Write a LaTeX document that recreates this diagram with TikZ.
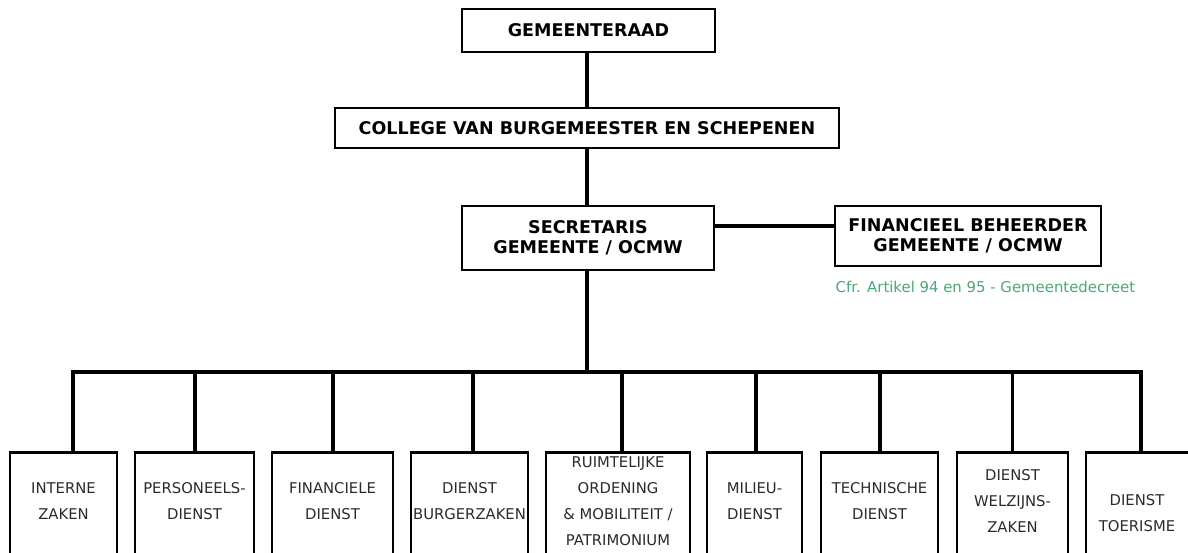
\documentclass[tikz,border=0pt]{standalone}
\usepackage{fontspec}
\setmainfont{DejaVu Sans}
\definecolor{notegreen}{HTML}{4AA874}
\definecolor{lowtext}{HTML}{2A2A2A}
\begin{document}
\begin{tikzpicture}[x=1pt,y=-1pt,
  topbox/.style={draw, line width=2.8pt, inner sep=0pt, align=center,
    font=\bfseries\fontsize{17.5}{20}\selectfont},
  lowbox/.style={draw, line width=2.8pt, inner sep=0pt, anchor=north, minimum height=150},
  lowtxt/.style={align=center, text=lowtext, font=\fontsize{14.8}{26}\selectfont, inner sep=0pt},
  conn/.style={line width=3.3pt}]
\useasboundingbox (0,0) rectangle (1188,553);
\clip (0,0) rectangle (1188,553);
% top boxes
\node[topbox, minimum width=253, minimum height=43] (g) at (588.5,30.5) {GEMEENTERAAD};
\node[topbox, minimum width=504, minimum height=40] (c) at (587,128) {COLLEGE VAN BURGEMEESTER EN SCHEPENEN};
\node[topbox, minimum width=252, minimum height=64] (s) at (588,238) {SECRETARIS\\GEMEENTE / OCMW};
\node[topbox, minimum width=266, minimum height=60] (f) at (968,236) {FINANCIEEL BEHEERDER\\GEMEENTE / OCMW};
\node[text=notegreen, font=\fontsize{14.9}{16}\selectfont, inner sep=0pt] (note) at (985.5,287) {Cfr. Artikel 94 en 95 - Gemeentedecreet};
% bottom boxes
\node[lowbox, minimum width=107] (b1) at (63.5,451) {};
\node[lowbox, minimum width=119] (b2) at (194.5,451) {};
\node[lowbox, minimum width=121] (b3) at (332.5,451) {};
\node[lowbox, minimum width=117] (b4) at (469.5,451) {};
\node[lowbox, minimum width=144] (b5) at (618,451) {};
\node[lowbox, minimum width=95] (b6) at (754.5,451) {};
\node[lowbox, minimum width=117] (b7) at (879.5,451) {};
\node[lowbox, minimum width=111] (b8) at (1012.5,451) {};
\node[lowbox, minimum width=106] (b9) at (1139,451) {};
\node[lowtxt] (t1) at (63.5,501) {INTERNE\\ZAKEN};
\node[lowtxt] (t2) at (194.5,501) {PERSONEELS-\\DIENST};
\node[lowtxt] (t3) at (332.5,501) {FINANCIELE\\DIENST};
\node[lowtxt] (t4) at (469.5,501) {DIENST\\BURGERZAKEN};
\node[lowtxt] (t5) at (618,501.5) {RUIMTELIJKE\\ORDENING\\\&~MOBILITEIT /\\PATRIMONIUM};
\node[lowtxt] (t6) at (754.5,501) {MILIEU-\\DIENST};
\node[lowtxt] (t7) at (879.5,501) {TECHNISCHE\\DIENST};
\node[lowtxt] (t8) at (1012.5,501) {DIENST\\WELZIJNS-\\ZAKEN};
\node[lowtxt] (t9) at (1137,513) {DIENST\\TOERISME};
% connectors
\coordinate (sf) at (0,226);
\coordinate (bus) at (0,372);
\draw[conn] (c.north |- g.south) -- (c.north);
\draw[conn] (c.south) -- (c.south |- s.north);
\draw[conn] (s.east |- sf) -- (f.west |- sf);
\draw[conn] (c.south |- s.south) -- (c.south |- bus);
\draw[conn] ([xshift=9.5]b1.north) -- ([xshift=9.5]b1.north |- bus) -- ([xshift=2]b9.north |- bus) -- ([xshift=2]b9.north);
\draw[conn] ([xshift=0.5]b2.north) -- ([xshift=0.5]b2.north |- bus);
\draw[conn] ([xshift=0.5]b3.north) -- ([xshift=0.5]b3.north |- bus);
\draw[conn] ([xshift=3.5]b4.north) -- ([xshift=3.5]b4.north |- bus);
\draw[conn] ([xshift=4]b5.north) -- ([xshift=4]b5.north |- bus);
\draw[conn] ([xshift=1.5]b6.north) -- ([xshift=1.5]b6.north |- bus);
\draw[conn] ([xshift=0.5]b7.north) -- ([xshift=0.5]b7.north |- bus);
\draw[conn] (b8.north) -- (b8.north |- bus);
\end{tikzpicture}
\end{document}
